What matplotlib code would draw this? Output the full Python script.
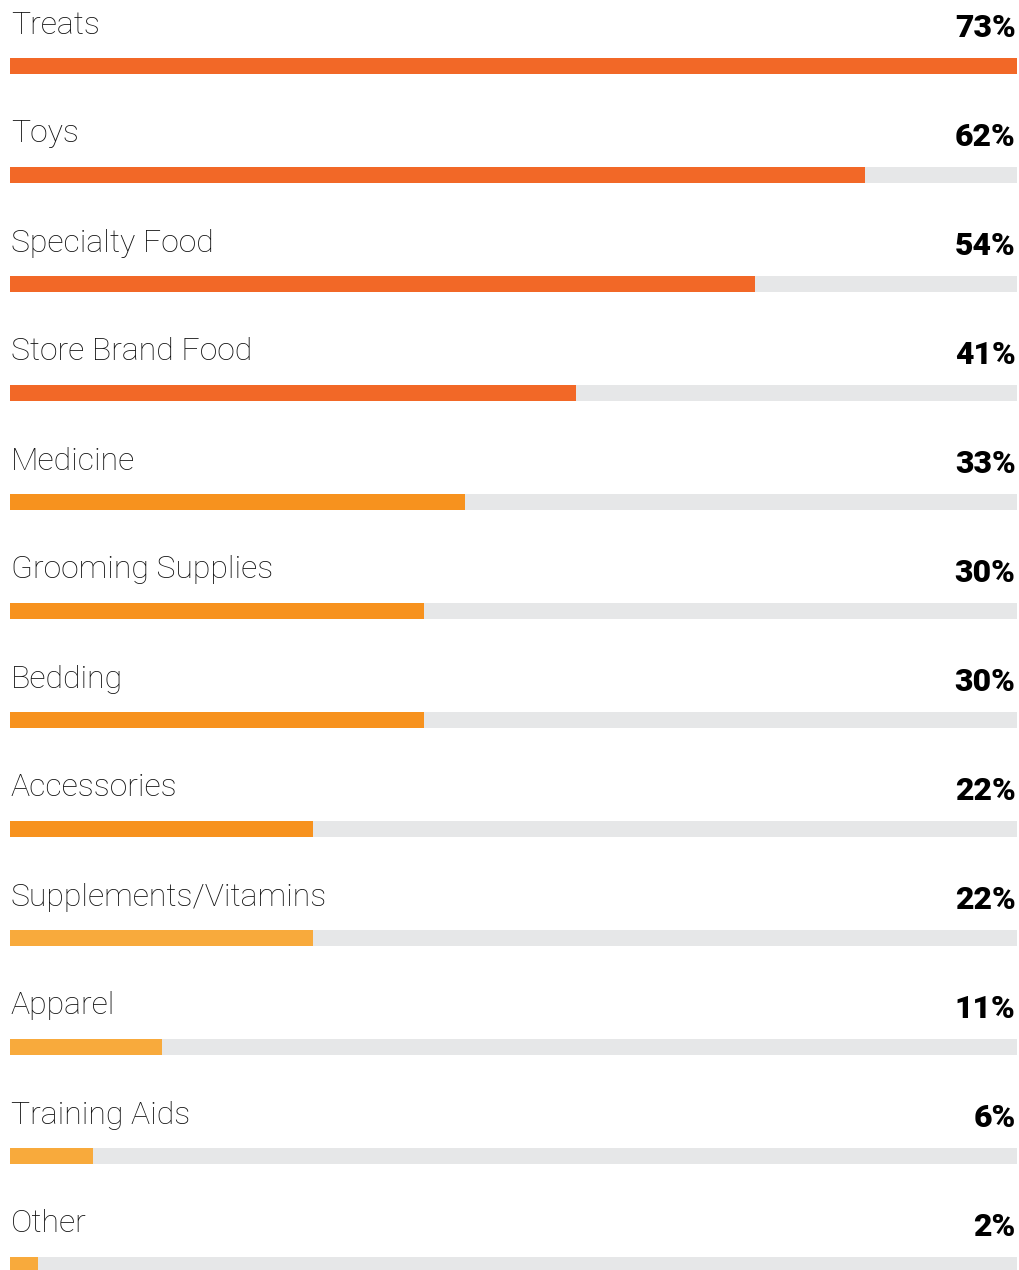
import matplotlib.pyplot as plt

# Share of pet owners buying each product category
categories = ["Treats", "Toys", "Specialty Food", "Store Brand Food", "Medicine",
              "Grooming Supplies", "Bedding", "Accessories", "Supplements/Vitamins",
              "Apparel", "Training Aids", "Other"]
values = [73, 62, 54, 41, 33, 30, 30, 22, 22, 11, 6, 2]
tiers = [0, 0, 0, 0, 1, 1, 1, 1, 2, 2, 2, 2]

TIER_COLORS = ["#F26827", "#F7921E", "#F8AA3C"]
TRACK = "#E6E7E8"
W, H = 1020, 1270

fig = plt.figure(figsize=(W / 100, H / 100), dpi=100)
ax = fig.add_axes([10 / W, 0, 1007 / W, 1])
ax.set_xlim(0, max(values))
ax.set_ylim(H, 0)
ax.axis("off")

row_gap = 109.0
for i, (cat, val, tier) in enumerate(zip(categories, values, tiers)):
    yc = 66 + i * row_gap
    ax.barh(yc, max(values), height=16, color=TRACK, left=0)
    ax.barh(yc, val, height=16, color=TIER_COLORS[tier], left=0)
    ax.text(0.05, yc - 41, cat, ha="left", va="center", fontsize=23,
            family="Roboto", fontweight="light", color="#111111")
    ax.text(max(values) - 0.1, yc - 38, f"{val}%", ha="right", va="center",
            fontsize=23, family="Roboto", fontweight="heavy", color="#000000")

fig.savefig("out.png", dpi=100)
